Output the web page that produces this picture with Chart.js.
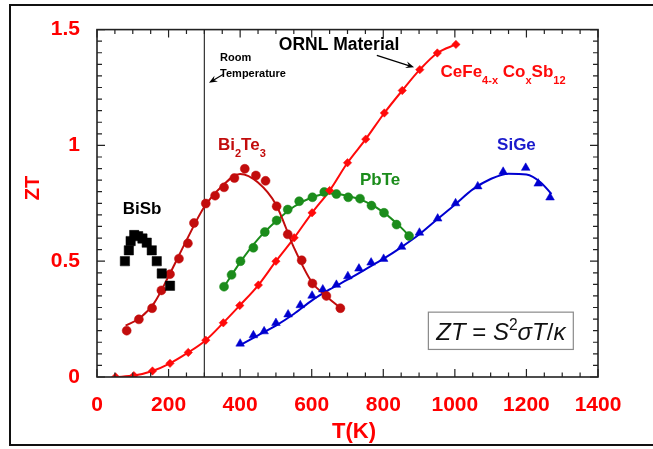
<!DOCTYPE html>
<html><head><meta charset="utf-8">
<script src="https://cdn.jsdelivr.net/npm/chart.js@4.4.1/dist/chart.umd.min.js"></script>
<style>html,body{margin:0;padding:0;background:#fff;}#wrap{position:relative;width:653px;height:449px;}</style>
</head><body><div id="wrap"><canvas id="c" width="653" height="449"></canvas></div>
<script>
// ---- tick labels ----
const xTicks = [0, 200, 400, 600, 800, 1000, 1200, 1400];
const yTicks = [0, 0.5, 1, 1.5];
const roomT = 300;

// ---- BiSb (black squares) ----
const biSbT  = [78, 89, 94, 104, 115, 127, 139, 153, 167, 181, 204];
const biSbZT = [0.50, 0.547, 0.587, 0.613, 0.608, 0.598, 0.58, 0.547, 0.50, 0.447, 0.394];

// ---- Bi2Te3 (dark red circles + fitted curve) ----
const biTeT  = [83, 117, 154, 180, 204, 229, 254, 271, 304, 330, 355, 384, 413, 444, 471, 502, 533, 572, 602, 641, 680];
const biTeZT = [0.20, 0.249, 0.297, 0.374, 0.444, 0.511, 0.577, 0.665, 0.749, 0.783, 0.819, 0.859, 0.899, 0.870, 0.847, 0.737, 0.616, 0.504, 0.404, 0.35, 0.297];
const biTeFitT  = [80, 120, 160, 200, 250, 300, 350, 400, 450, 500, 550, 600, 640, 680];
const biTeFitZT = [0.222, 0.255, 0.32, 0.435, 0.59, 0.735, 0.825, 0.877, 0.84, 0.745, 0.56, 0.41, 0.35, 0.298];

// ---- CeFe4-xCoxSb12 (red diamonds + line) ----
const ceT  = [52, 103, 155, 204, 255, 304, 353, 399, 451, 500, 551, 601, 650, 700, 751, 803, 853, 902, 951, 1003];
const ceZT = [0.0, 0.006, 0.026, 0.059, 0.106, 0.159, 0.234, 0.309, 0.397, 0.50, 0.601, 0.709, 0.805, 0.925, 1.027, 1.14, 1.237, 1.327, 1.399, 1.436];

// ---- PbTe (green circles + fitted curve) ----
const pbT  = [355, 376, 401, 437, 469, 502, 533, 565, 602, 635, 669, 702, 735, 767, 802, 837, 872];
const pbZT = [0.39, 0.441, 0.50, 0.558, 0.626, 0.676, 0.723, 0.759, 0.776, 0.799, 0.79, 0.776, 0.77, 0.74, 0.709, 0.658, 0.609];
const pbFitT  = [355, 400, 450, 500, 550, 600, 650, 700, 750, 800, 850, 875];
const pbFitZT = [0.39, 0.495, 0.595, 0.672, 0.735, 0.775, 0.792, 0.783, 0.757, 0.712, 0.645, 0.605];

// ---- SiGe (blue triangles + fitted curve) ----
const siT  = [400, 437, 467, 500, 534, 568, 601, 631, 669, 701, 732, 766, 801, 851, 901, 952, 1002, 1064, 1135, 1198, 1233, 1266];
const siZT = [0.144, 0.18, 0.197, 0.233, 0.27, 0.31, 0.351, 0.378, 0.398, 0.435, 0.468, 0.494, 0.51, 0.562, 0.623, 0.684, 0.75, 0.823, 0.886, 0.903, 0.835, 0.775];
const siFitT  = [400, 450, 500, 550, 600, 650, 700, 750, 800, 850, 900, 950, 1000, 1050, 1100, 1150, 1200, 1240, 1270];
const siFitZT = [0.138, 0.18, 0.222, 0.272, 0.33, 0.378, 0.42, 0.465, 0.51, 0.56, 0.615, 0.68, 0.744, 0.81, 0.855, 0.878, 0.874, 0.84, 0.79];

const pts = (xs, ys) => xs.map((v, i) => ({x: v, y: ys[i]}));

const C_BITE = '#c20c0c', C_CE = '#ff0a0a', C_PB = '#1b8c1b', C_SI = '#0000d0';
const FAM = "'Liberation Sans', Arial, Helvetica, sans-serif";
Chart.defaults.font.family = FAM;

function marker(label, data, color, style, r, order) {
  return {label, data, showLine: false, pointStyle: style, pointRadius: r, pointHoverRadius: r,
    backgroundColor: color, borderColor: color, borderWidth: 0.5, order};
}
function curve(label, data, color, order, width) {
  return {label, data, showLine: true, pointRadius: 0, pointHoverRadius: 0, borderColor: color,
    backgroundColor: color, borderWidth: width || 2, cubicInterpolationMode: 'monotone', fill: false, order};
}

function rich(ctx, x, y, parts, size, color, bold) {
  ctx.fillStyle = color; ctx.textBaseline = 'alphabetic'; ctx.textAlign = 'left';
  let cx = x;
  for (const p of parts) {
    const small = p.sub || p.sup;
    const s = small ? size * 0.65 : size;
    ctx.font = (p.italic ? 'italic ' : '') + (bold ? 'bold ' : '') + s + 'px ' + FAM;
    const dy = p.sub ? size * 0.42 : (p.sup ? -size * 0.40 : 0);
    ctx.fillText(p.t, cx, y + dy);
    cx += ctx.measureText(p.t).width;
  }
  return cx;
}
function arrow(ctx, x1, y1, x2, y2) {
  const a = Math.atan2(y2 - y1, x2 - x1), L = 9, W = 0.38;
  ctx.beginPath(); ctx.moveTo(x1, y1); ctx.lineTo(x2 - Math.cos(a) * 4, y2 - Math.sin(a) * 4); ctx.stroke();
  ctx.beginPath(); ctx.moveTo(x2, y2);
  ctx.lineTo(x2 - L * Math.cos(a - W), y2 - L * Math.sin(a - W));
  ctx.lineTo(x2 - L * 0.6 * Math.cos(a), y2 - L * 0.6 * Math.sin(a));
  ctx.lineTo(x2 - L * Math.cos(a + W), y2 - L * Math.sin(a + W));
  ctx.closePath(); ctx.fill();
}

const decor = {
  id: 'decor',
  beforeDraw(chart) {
    const ctx = chart.ctx;
    ctx.save(); ctx.fillStyle = '#fff'; ctx.fillRect(0, 0, chart.width, chart.height);
    ctx.strokeStyle = '#111'; ctx.lineWidth = 2; ctx.strokeRect(10, 5, 720, 440); ctx.restore();
  },
  beforeDatasetsDraw(chart) {
    const {ctx, chartArea: a, scales: {x}} = chart;
    const px = x.getPixelForValue(roomT);
    ctx.save(); ctx.strokeStyle = '#333'; ctx.lineWidth = 1.2;
    ctx.beginPath(); ctx.moveTo(px, a.top); ctx.lineTo(px, a.bottom); ctx.stroke(); ctx.restore();
  },
  afterDatasetsDraw(chart) {
    const {ctx, chartArea: a, scales: {x, y}} = chart;
    const X = v => x.getPixelForValue(v), Y = v => y.getPixelForValue(v);
    ctx.save();
    // frame
    ctx.strokeStyle = '#222'; ctx.lineWidth = 1.6;
    ctx.strokeRect(a.left, a.top, a.right - a.left, a.bottom - a.top);
    // inward ticks
    ctx.lineWidth = 1.2; ctx.beginPath();
    for (let v = 0; v <= 1400; v += 50) {
      const px = X(v), L = (v % 200 === 0) ? 8 : 4.5;
      ctx.moveTo(px, a.bottom); ctx.lineTo(px, a.bottom - L);
      ctx.moveTo(px, a.top); ctx.lineTo(px, a.top + L);
    }
    for (let k = 0; k <= 30; k++) {
      const v = k * 0.05, py = Y(v), L = (k % 10 === 0) ? 8 : 5;
      ctx.moveTo(a.left, py); ctx.lineTo(a.left + L, py);
      ctx.moveTo(a.right, py); ctx.lineTo(a.right - L, py);
    }
    ctx.stroke();

    // annotations
    ctx.fillStyle = '#000'; ctx.font = 'bold 17.5px ' + FAM; ctx.textBaseline = 'alphabetic';
    ctx.fillText('ORNL Material', X(508), Y(1.414));
    ctx.strokeStyle = '#000'; ctx.lineWidth = 1.2;
    arrow(ctx, X(782), Y(1.389), X(886), Y(1.337));
    ctx.font = 'bold 11px ' + FAM;
    ctx.fillText('Room', X(344), Y(1.363));
    ctx.fillText('Temperature', X(344), Y(1.297));
    arrow(ctx, X(352), Y(1.306), X(313), Y(1.27));

    rich(ctx, X(338), Y(0.981), [{t: 'Bi'}, {t: '2', sub: 1}, {t: 'Te'}, {t: '3', sub: 1}], 17, C_BITE, true);
    rich(ctx, X(960), Y(1.294), [{t: 'CeFe'}, {t: '4-x', sub: 1}, {t: ' Co'}, {t: 'x', sub: 1}, {t: 'Sb'}, {t: '12', sub: 1}], 17, C_CE, true);
    rich(ctx, X(735), Y(0.827), [{t: 'PbTe'}], 17, C_PB, true);
    rich(ctx, X(1118), Y(0.981), [{t: 'SiGe'}], 17, '#1a1acc', true);
    rich(ctx, X(72), Y(0.704), [{t: 'BiSb'}], 17, '#000', true);

    // formula box
    const bx1 = X(926), by1 = Y(0.28), bx2 = X(1331), by2 = Y(0.119);
    ctx.fillStyle = '#fff'; ctx.fillRect(bx1, by1, bx2 - bx1, by2 - by1);
    ctx.strokeStyle = '#8a8a8a'; ctx.lineWidth = 1.2; ctx.strokeRect(bx1, by1, bx2 - bx1, by2 - by1);
    rich(ctx, X(948), Y(0.161), [{t: 'ZT', italic: 1}, {t: ' = '}, {t: 'S', italic: 1}, {t: '2', sup: 1}, {t: 'σT', italic: 1}, {t: '/'}, {t: 'κ', italic: 1}], 24, '#111', false);

    // axis titles
    ctx.fillStyle = '#ff0000'; ctx.font = 'bold 22px ' + FAM;
    ctx.textAlign = 'center'; ctx.textBaseline = 'alphabetic';
    ctx.fillText('T(K)', 354, 438);
    ctx.translate(39, 188); ctx.rotate(-Math.PI / 2);
    ctx.font = 'bold 20px ' + FAM; ctx.textBaseline = 'alphabetic';
    ctx.fillText('ZT', 0, 0);
    ctx.restore();
  }
};

new Chart(document.getElementById('c'), {
  type: 'scatter',
  data: {
    datasets: [
      marker('BiSb', pts(biSbT, biSbZT), '#000', 'rect', 6.6, 0),
      marker('Bi2Te3', pts(biTeT, biTeZT), C_BITE, 'circle', 4.5, 1),
      marker('CeFe4-xCoxSb12', pts(ceT, ceZT), C_CE, 'rectRot', 4.2, 2),
      marker('PbTe', pts(pbT, pbZT), C_PB, 'circle', 4.5, 3),
      marker('SiGe', pts(siT, siZT), C_SI, 'triangle', 5, 4),
      curve('Bi2Te3 fit', pts(biTeFitT, biTeFitZT), C_BITE, 10),
      curve('CeFe line', pts(ceT, ceZT), C_CE, 11),
      curve('PbTe fit', pts(pbFitT, pbFitZT), C_PB, 12),
      curve('SiGe fit', pts(siFitT, siFitZT), C_SI, 13)
    ]
  },
  options: {
    responsive: false, animation: false, events: [],
    layout: {padding: {left: 0, top: 27, right: 55, bottom: 0}},
    plugins: {legend: {display: false}, tooltip: {enabled: false}},
    scales: {
      x: {
        type: 'linear', min: 0, max: 1400,
        afterFit: s => { s.height = 72; },
        afterBuildTicks: s => { s.ticks = xTicks.map(v => ({value: v})); },
        grid: {display: false, drawTicks: false},
        border: {display: false},
        ticks: {color: '#ff0000', font: {size: 21, weight: 'bold'}, padding: 16, maxRotation: 0, autoSkip: false,
          callback: v => String(v)}
      },
      y: {
        type: 'linear', min: 0, max: 1.5,
        afterFit: s => { s.width = 97; },
        afterBuildTicks: s => { s.ticks = yTicks.map(v => ({value: v})); },
        grid: {display: false, drawTicks: false},
        border: {display: false},
        ticks: {color: '#ff0000', font: {size: 21, weight: 'bold'}, padding: 17, autoSkip: false,
          callback: v => String(v)}
      }
    }
  },
  plugins: [decor]
});
</script></body></html>
